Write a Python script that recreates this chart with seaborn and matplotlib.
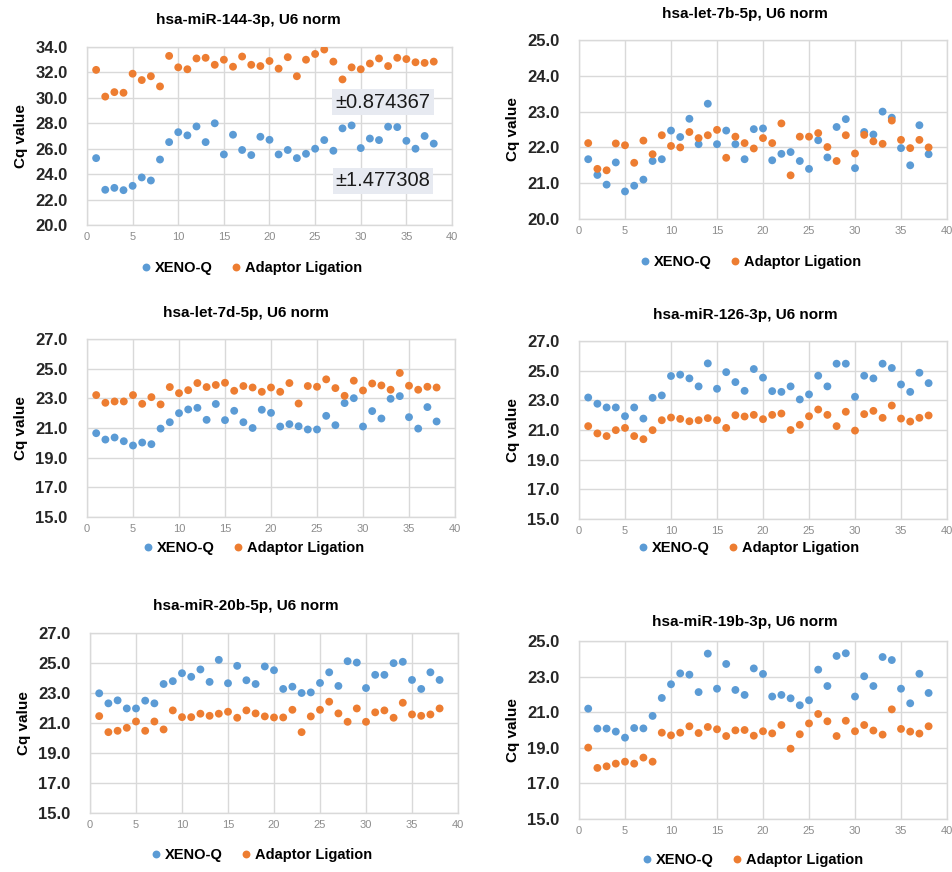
import numpy as np
import pandas as pd
import matplotlib
matplotlib.use("Agg")
import matplotlib.pyplot as plt
import seaborn as sns

samples = list(range(1, 39))
series_names = ["XENO-Q", "Adaptor Ligation"]

titles = ["hsa-miR-144-3p, U6 norm", "hsa-let-7b-5p, U6 norm",
          "hsa-let-7d-5p, U6 norm", "hsa-miR-126-3p, U6 norm",
          "hsa-miR-20b-5p, U6 norm", "hsa-miR-19b-3p, U6 norm"]

mir144_xeno = [25.26, 22.77, 22.92, 22.74, 23.08, 23.74, 23.5, 25.15, 26.52, 27.3,
               27.05, 27.75, 26.52, 28.0, 25.55, 27.1, 25.9, 25.5, 26.94, 26.7,
               25.55, 25.9, 25.26, 25.6, 26.0, 26.68, 25.84, 27.6, 27.83, 26.05,
               26.8, 26.68, 27.73, 27.7, 26.62, 26.0, 27.0, 26.4]
mir144_adapt = [32.2, 30.1, 30.45, 30.4, 31.9, 31.4, 31.7, 30.9, 33.3, 32.4,
                32.25, 33.1, 33.15, 32.6, 33.0, 32.45, 33.25, 32.6, 32.5, 32.9,
                32.3, 33.2, 31.7, 33.0, 33.45, 33.8, 32.85, 31.45, 32.4, 32.25,
                32.7, 33.1, 32.5, 33.15, 33.05, 32.8, 32.75, 32.85]

let7b_xeno = [21.67, 21.23, 20.96, 21.58, 20.77, 20.93, 21.1, 21.62, 21.67, 22.47,
              22.29, 22.8, 22.09, 23.22, 22.09, 22.47, 22.09, 21.67, 22.51, 22.53,
              21.64, 21.82, 21.87, 21.62, 21.4, 22.2, 21.72, 22.57, 22.79, 21.42,
              22.43, 22.36, 23.0, 22.83, 21.98, 21.5, 22.62, 21.81]
let7b_adapt = [22.12, 21.4, 21.36, 22.11, 22.06, 21.57, 22.19, 21.81, 22.34, 22.04,
               22.0, 22.43, 22.26, 22.34, 22.49, 21.71, 22.3, 22.12, 21.97, 22.26,
               22.12, 22.67, 21.22, 22.3, 22.3, 22.4, 22.01, 21.62, 22.34, 21.83,
               22.35, 22.17, 22.1, 22.75, 22.21, 21.98, 22.21, 22.0]

let7d_xeno = [20.65, 20.22, 20.36, 20.11, 19.82, 20.02, 19.91, 20.96, 21.39, 22.0,
              22.25, 22.36, 21.55, 22.62, 21.53, 22.16, 21.39, 21.0, 22.23, 22.02,
              21.1, 21.26, 21.12, 20.9, 20.9, 21.82, 21.19, 22.68, 23.01, 21.1,
              22.14, 21.64, 22.97, 23.15, 21.73, 20.96, 22.41, 21.44]
let7d_adapt = [23.22, 22.7, 22.79, 22.79, 23.22, 22.63, 23.08, 22.59, 23.76, 23.35,
               23.55, 24.03, 23.76, 23.9, 24.05, 23.51, 23.83, 23.73, 23.44, 23.73,
               23.44, 24.03, 22.65, 23.83, 23.78, 24.28, 23.69, 23.17, 24.19, 23.53,
               24.0, 23.87, 23.58, 24.71, 23.85, 23.58, 23.78, 23.73]

mir126_xeno = [23.19, 22.77, 22.52, 22.52, 21.93, 22.52, 21.77, 23.17, 23.33, 24.64,
               24.73, 24.48, 23.94, 25.49, 23.78, 24.9, 24.23, 23.64, 25.11, 24.53,
               23.62, 23.57, 23.94, 23.06, 23.4, 24.66, 23.94, 25.47, 25.47, 23.24,
               24.66, 24.48, 25.47, 25.18, 24.07, 23.57, 24.86, 24.16]
mir126_adapt = [21.26, 20.77, 20.59, 20.99, 21.14, 20.59, 20.38, 20.99, 21.66, 21.84,
                21.75, 21.59, 21.66, 21.8, 21.66, 21.14, 22.0, 21.91, 22.02, 21.73,
                22.02, 22.11, 21.0, 21.35, 21.93, 22.38, 22.02, 21.26, 22.23, 20.96,
                22.07, 22.29, 21.82, 22.65, 21.77, 21.57, 21.82, 21.98]

mir20b_xeno = [22.98, 22.31, 22.51, 21.97, 21.97, 22.49, 22.31, 23.6, 23.79, 24.32,
               24.08, 24.57, 23.74, 25.21, 23.65, 24.81, 23.85, 23.6, 24.77, 24.52,
               23.27, 23.42, 23.0, 23.04, 23.67, 24.38, 23.47, 25.12, 25.03, 23.33,
               24.21, 24.21, 24.99, 25.08, 23.87, 23.27, 24.38, 23.87]
mir20b_adapt = [21.46, 20.39, 20.48, 20.68, 21.1, 20.48, 21.1, 20.57, 21.84, 21.39,
                21.39, 21.62, 21.48, 21.62, 21.75, 21.35, 21.84, 21.64, 21.44, 21.37,
                21.37, 21.88, 20.39, 21.44, 21.88, 22.42, 21.64, 21.08, 21.97, 21.08,
                21.71, 21.84, 21.35, 22.35, 21.57, 21.48, 21.57, 21.97]

mir19b_xeno = [21.2, 20.08, 20.08, 19.91, 19.57, 20.11, 20.09, 20.79, 21.8, 22.57,
               23.18, 23.11, 22.13, 24.29, 22.32, 23.71, 22.25, 21.97, 23.46, 23.15,
               21.88, 21.97, 21.78, 21.39, 21.67, 23.39, 22.47, 24.16, 24.31, 21.88,
               23.02, 22.47, 24.1, 23.93, 22.32, 21.5, 23.16, 22.08]
mir19b_adapt = [19.01, 17.87, 17.96, 18.11, 18.22, 18.11, 18.45, 18.22, 19.85, 19.7,
                19.85, 20.21, 19.83, 20.17, 20.04, 19.66, 19.98, 20.0, 19.68, 19.93,
                19.81, 20.28, 18.95, 19.76, 20.37, 20.9, 20.49, 19.66, 20.52, 19.93,
                20.28, 19.97, 19.74, 21.16, 20.06, 19.91, 19.8, 20.21]

sd_labels = ["\u00b10.874367", "\u00b11.477308"]

W, H = 953, 872
plt.rcParams['font.family'] = ['Liberation Sans', 'DejaVu Sans']
fig = plt.figure(figsize=(W / 100, H / 100), dpi=100)

BLUE = "#5B9BD5"
ORANGE = "#ED7D31"
GRID = "#D9D9D9"

# (left, top, right, bottom) in pixels, title center x,y, legend center x,y, ylim, ystep
layout = [
    ((87, 47, 452, 225), (248, 20), (250, 268), (20, 34), 2),
    ((579, 40, 947, 219), (745, 14), (749, 262), (20, 25), 1),
    ((87, 339, 455, 517), (246, 313), (252, 548), (15, 27), 2),
    ((579, 341, 947, 519), (745, 315), (747, 548), (15, 27), 2),
    ((90, 633, 458, 813), (246, 606), (260, 855), (15, 27), 2),
    ((579, 641, 947, 819), (745, 622), (751, 860), (15, 25), 2),
]
data = [(mir144_xeno, mir144_adapt), (let7b_xeno, let7b_adapt),
        (let7d_xeno, let7d_adapt), (mir126_xeno, mir126_adapt),
        (mir20b_xeno, mir20b_adapt), (mir19b_xeno, mir19b_adapt)]

for i, ((l, t, r, b), (tx, ty), (lx, ly), (y0, y1), ystep) in enumerate(layout):
    ax = fig.add_axes([l / W, 1 - b / H, (r - l) / W, (b - t) / H])
    xeno, adapt = data[i]
    df = pd.DataFrame({
        "Sample": samples * 2,
        "Cq": list(xeno) + list(adapt),
        "Method": [series_names[0]] * len(samples) + [series_names[1]] * len(samples),
    })
    sns.scatterplot(data=df, x="Sample", y="Cq", hue="Method",
                    palette={series_names[0]: BLUE, series_names[1]: ORANGE},
                    s=32, linewidth=0, ax=ax, zorder=3)
    ax.set_xlim(0, 40)
    ax.set_ylim(y0, y1)
    ax.set_xticks(np.arange(0, 41, 5))
    yt = np.arange(y0, y1 + 0.001, ystep)
    ax.set_yticks(yt)
    ax.set_yticklabels([f"{v:.1f}" for v in yt],
                       fontsize=12, fontweight='bold', color='#262626')
    ax.tick_params(axis='x', labelsize=8, colors='#8C8C8C', length=0, pad=5)
    ax.tick_params(axis='y', length=0, pad=14)
    ax.grid(True, color=GRID, linewidth=1, zorder=0)
    ax.set_axisbelow(True)
    for sp in ax.spines.values():
        sp.set_color(GRID)
        sp.set_linewidth(1)
    ax.set_xlabel("")
    ax.set_ylabel("Cq value", fontsize=11, fontweight='bold', labelpad=5)
    handles, labels = ax.get_legend_handles_labels()
    ax.get_legend().remove()
    fig.legend(handles, labels, loc='center', bbox_to_anchor=(lx / W, 1 - ly / H),
               ncol=2, frameon=False, prop={'weight': 'bold', 'size': 10.5},
               handletextpad=0.0, columnspacing=1.0, markerscale=1.0,
               handlelength=1.2)
    fig.text(tx / W, 1 - ty / H, titles[i], ha='center', va='center',
             fontsize=11, fontweight='bold')
    if i == 0:
        for lab, cy in zip(sd_labels, (102, 181)):
            fig.text(383 / W, 1 - cy / H, lab, ha='center', va='center',
                     fontsize=14.5, color='#1a1a1a',
                     bbox=dict(boxstyle='square,pad=0.15', facecolor='#E7EAF1',
                               edgecolor='none'), zorder=5)

fig.savefig("out.png", dpi=100)
